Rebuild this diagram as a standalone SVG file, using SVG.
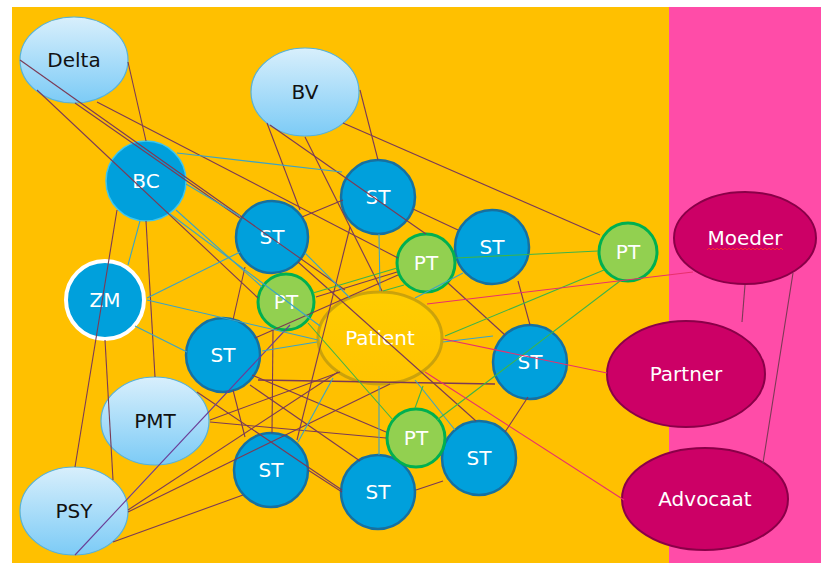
<svg xmlns="http://www.w3.org/2000/svg" width="821" height="563" viewBox="0 0 821 563">
<defs>
<linearGradient id="lb" x1="0" y1="0" x2="0" y2="1">
<stop offset="0" stop-color="#d8effc"/>
<stop offset="1" stop-color="#7ccbf6"/>
</linearGradient>
<linearGradient id="pg" x1="0" y1="0" x2="0" y2="1">
<stop offset="0" stop-color="#ffcd00"/>
<stop offset="1" stop-color="#ffc400"/>
</linearGradient>
</defs>
<style>
.lb{fill:url(#lb);stroke:#56b2da;stroke-width:1.2}
.st{fill:#00a0dc;stroke:#1670a0;stroke-width:2.5}
.pt{fill:#92d050;stroke:#00b050;stroke-width:3}
.pa{fill:url(#pg);stroke:#b59410;stroke-opacity:.7;stroke-width:3}
.mg{fill:#cc0066;stroke:#8a0048;stroke-width:2}
text{font-family:"DejaVu Sans","Verdana",sans-serif;font-size:20px;text-anchor:middle}
.w{fill:#ffffff}
.k{fill:#111111}
#conn line{stroke-width:1.1;fill:none}
.b{stroke:#7b3a55}
.t{stroke:#3aa3c6}
.g{stroke:#3cb44a}
.r{stroke:#e8306c}
.p{stroke:#6a3c96}
</style>
<rect x="0" y="0" width="821" height="563" fill="#ffffff"/>
<rect x="12" y="7" width="657" height="556" fill="#ffc000"/>
<rect x="669" y="7" width="152" height="556" fill="#ff4ca8"/>

<g id="delta"><ellipse class="lb" cx="74" cy="60" rx="54" ry="43"/><text class="k" x="74" y="67">Delta</text></g>
<g id="bv"><ellipse class="lb" cx="305" cy="92" rx="54" ry="44"/><text class="k" x="305" y="99">BV</text></g>
<g id="pmt"><ellipse class="lb" cx="155" cy="421" rx="54" ry="44"/><text class="k" x="155" y="428">PMT</text></g>
<g id="psy"><ellipse class="lb" cx="74" cy="511" rx="54" ry="44"/><text class="k" x="74" y="518">PSY</text></g>
<g id="bc"><circle cx="146" cy="181" r="40" fill="#00a0dc" stroke="#3cc6f0" stroke-width="1.5"/><text class="w" x="146" y="188">BC</text></g>
<g id="zm"><circle cx="105" cy="300" r="39" fill="#00a0dc" stroke="#ffffff" stroke-width="4"/><text class="w" x="105" y="307">ZM</text></g>
<g id="st1"><circle class="st" cx="272" cy="237" r="36"/><text class="w" x="272" y="244">ST</text></g>
<g id="st2"><circle class="st" cx="378" cy="197" r="37"/><text class="w" x="378" y="204">ST</text></g>
<g id="st3"><circle class="st" cx="492" cy="247" r="37"/><text class="w" x="492" y="254">ST</text></g>
<g id="st4"><circle class="st" cx="223" cy="355" r="37"/><text class="w" x="223" y="362">ST</text></g>
<g id="st5"><circle class="st" cx="530" cy="362" r="37"/><text class="w" x="530" y="369">ST</text></g>
<g id="st6"><circle class="st" cx="479" cy="458" r="37"/><text class="w" x="479" y="465">ST</text></g>
<g id="st7"><circle class="st" cx="271" cy="470" r="37"/><text class="w" x="271" y="477">ST</text></g>
<g id="st8"><circle class="st" cx="378" cy="492" r="37"/><text class="w" x="378" y="499">ST</text></g>
<g id="pt1"><circle class="pt" cx="426" cy="263" r="29"/><text class="w" x="426" y="270">PT</text></g>
<g id="pt2"><circle class="pt" cx="628" cy="252" r="29"/><text class="w" x="628" y="259">PT</text></g>
<g id="pt3"><circle class="pt" cx="286" cy="302" r="28"/><text class="w" x="286" y="309">PT</text></g>
<g id="pt4"><circle class="pt" cx="416" cy="438" r="29"/><text class="w" x="416" y="445">PT</text></g>
<g id="patient"><ellipse class="pa" cx="380" cy="338" rx="62" ry="46"/><text class="w" x="380" y="345">Patient</text></g>
<g id="moeder"><ellipse class="mg" cx="745" cy="238" rx="71" ry="46"/><text class="w" x="745" y="245">Moeder</text>
<path d="M707,250 l2,-2 l2,2 l2,-2 l2,2 l2,-2 l2,2 l2,-2 l2,2 l2,-2 l2,2 l2,-2 l2,2 l2,-2 l2,2 l2,-2 l2,2 l2,-2 l2,2 l2,-2 l2,2 l2,-2 l2,2 l2,-2 l2,2 l2,-2 l2,2 l2,-2 l2,2 l2,-2 l2,2 l2,-2 l2,2 l2,-2 l2,2 l2,-2 l2,2 l2,-2 l2,2" fill="none" stroke="#ff2a2a" stroke-width="0.9"/></g>
<g id="partner"><ellipse class="mg" cx="686" cy="374" rx="79" ry="53"/><text class="w" x="686" y="381">Partner</text></g>
<g id="advocaat"><ellipse class="mg" cx="705" cy="499" rx="83" ry="51"/><text class="w" x="705" y="506">Advocaat</text></g>

<g id="conn">
<line class="b" x1="128" y1="62" x2="146" y2="141"/>
<line class="b" x1="20" y1="60" x2="345" y2="290"/>
<line class="b" x1="37" y1="90" x2="258" y2="298"/>
<line class="b" x1="75" y1="103" x2="240" y2="218"/>
<line class="b" x1="97" y1="102" x2="398" y2="258"/>
<line class="b" x1="360" y1="90" x2="378" y2="160"/>
<line class="b" x1="267" y1="123" x2="300" y2="210"/>
<line class="b" x1="305" y1="137" x2="382" y2="291"/>
<line class="b" x1="270" y1="125" x2="426" y2="234"/>
<line class="b" x1="343" y1="123" x2="600" y2="235"/>
<line class="b" x1="117" y1="210" x2="75" y2="467"/>
<line class="b" x1="146" y1="221" x2="155" y2="377"/>
<line class="b" x1="105" y1="340" x2="113" y2="480"/>
<line class="b" x1="302" y1="217" x2="343" y2="200"/>
<line class="b" x1="245" y1="267" x2="233" y2="320"/>
<line class="b" x1="273" y1="330" x2="272" y2="433"/>
<line class="b" x1="413" y1="209" x2="458" y2="230"/>
<line class="b" x1="350" y1="227" x2="297" y2="440"/>
<line class="b" x1="316" y1="297" x2="397" y2="272"/>
<line class="b" x1="448" y1="283" x2="505" y2="335"/>
<line class="b" x1="518" y1="281" x2="530" y2="325"/>
<line class="b" x1="745" y1="285" x2="742" y2="322"/>
<line class="b" x1="793" y1="273" x2="763" y2="463"/>
<line class="b" x1="298" y1="262" x2="476" y2="421"/>
<line class="b" x1="233" y1="390" x2="245" y2="437"/>
<line class="b" x1="258" y1="380" x2="495" y2="384" style="stroke-width:1.5"/>
<line class="b" x1="252" y1="375" x2="386" y2="432"/>
<line class="b" x1="210" y1="422" x2="386" y2="438"/>
<line class="b" x1="210" y1="420" x2="340" y2="372"/>
<line class="b" x1="197" y1="392" x2="342" y2="490"/>
<line class="b" x1="128" y1="510" x2="338" y2="372"/>
<line class="b" x1="128" y1="512" x2="390" y2="384"/>
<line class="b" x1="113" y1="542" x2="243" y2="495"/>
<line class="b" x1="308" y1="470" x2="342" y2="492"/>
<line class="b" x1="416" y1="490" x2="443" y2="481"/>
<line class="b" x1="528" y1="397" x2="505" y2="432"/>
<line class="b" x1="250" y1="385" x2="360" y2="461"/>
<line class="b" x1="255" y1="338" x2="398" y2="275"/>
<line class="p" x1="75" y1="555" x2="290" y2="325"/>
<line class="t" x1="177" y1="153" x2="342" y2="172"/>
<line class="t" x1="186" y1="184" x2="240" y2="216"/>
<line class="t" x1="176" y1="210" x2="262" y2="287"/>
<line class="t" x1="170" y1="214" x2="320" y2="326"/>
<line class="t" x1="140" y1="221" x2="128" y2="265"/>
<line class="t" x1="147" y1="298" x2="240" y2="252"/>
<line class="t" x1="147" y1="300" x2="318" y2="340"/>
<line class="t" x1="135" y1="326" x2="187" y2="352"/>
<line class="t" x1="305" y1="253" x2="350" y2="298"/>
<line class="t" x1="379" y1="234" x2="380" y2="291"/>
<line class="t" x1="463" y1="273" x2="415" y2="298"/>
<line class="t" x1="443" y1="342" x2="493" y2="336"/>
<line class="t" x1="415" y1="380" x2="455" y2="430"/>
<line class="t" x1="379" y1="386" x2="379" y2="455"/>
<line class="t" x1="298" y1="442" x2="333" y2="378"/>
<line class="t" x1="262" y1="351" x2="317" y2="342"/>
<line class="g" x1="456" y1="258" x2="598" y2="251"/>
<line class="g" x1="313" y1="293" x2="397" y2="268"/>
<line class="g" x1="383" y1="291" x2="404" y2="285"/>
<line class="g" x1="604" y1="270" x2="445" y2="336"/>
<line class="g" x1="620" y1="281" x2="437" y2="420"/>
<line class="g" x1="423" y1="386" x2="415" y2="408"/>
<line class="g" x1="308" y1="323" x2="393" y2="420"/>
<line class="r" x1="693" y1="272" x2="427" y2="304"/>
<line class="r" x1="443" y1="339" x2="607" y2="373"/>
<line class="r" x1="425" y1="372" x2="624" y2="500"/>
</g>
</svg>
